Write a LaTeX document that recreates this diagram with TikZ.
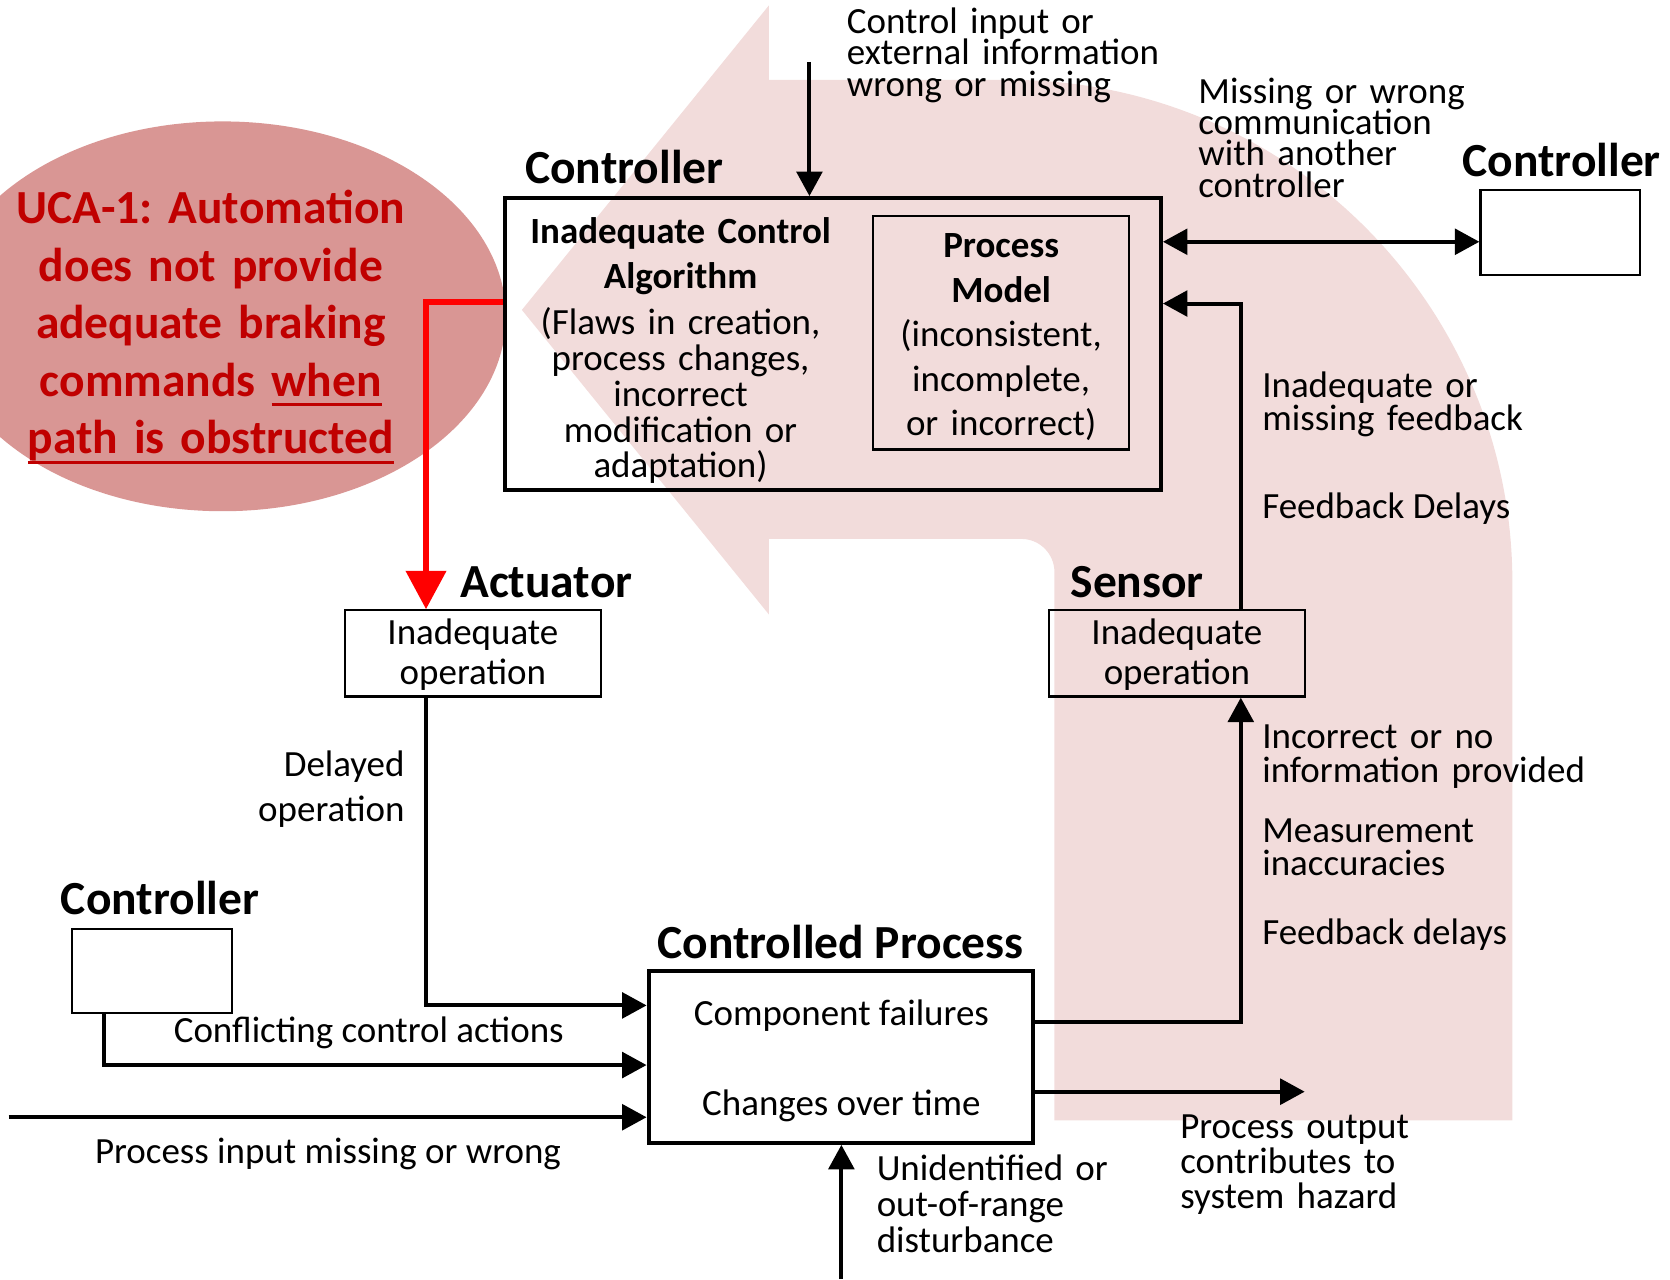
\documentclass[tikz,border=0pt]{standalone}
\usepackage{fontspec}
\setmainfont{Carlito}
\usetikzlibrary{arrows.meta,shapes.geometric}
\definecolor{pinkbg}{HTML}{F2DCDB}
\definecolor{ellfill}{HTML}{D99694}
\definecolor{darkred}{HTML}{C00000}
\frenchspacing
\newsavebox\myulbox
\newcommand\myul[1]{\leavevmode\sbox\myulbox{#1}\rlap{\rule[-9.5pt]{\wd\myulbox}{3pt}}\usebox\myulbox}
\newcommand\fs[2]{\fontsize{#1}{#2}\selectfont\lineskiplimit=-\maxdimen\frenchspacing}
\begin{document}
\begin{tikzpicture}[x=1pt,y=-1pt,
  lbl/.style={font=\fs{44.6}{54}\bfseries, inner sep=0pt, anchor=base west},
  txt/.style={font=\fs{34.7}{30}, inner sep=0pt, anchor=base west},
  thinbox/.style={draw, line width=2pt, inner sep=0pt},
  thickbox/.style={draw, line width=3.8pt, inner sep=0pt},
  arr/.style={line width=3.8pt, line join=miter, -{Triangle[length=23pt,width=24pt]}},
  dblarr/.style={line width=3.8pt, {Triangle[length=23pt,width=24pt]}-{Triangle[length=23pt,width=24pt]}},
  redarr/.style={draw=red, line width=5.6pt, line join=miter, -{Triangle[length=36pt,width=37pt]}}
]
\clip (0,0) rectangle (1568,1201);
% big pink background arrow
\fill[pinkbg] (490,291) -- (722,5) -- (722,75) -- (948,75)
  .. controls (1208.7,75) and (1420,286.3) .. (1420,547)
  -- (1420,1052) -- (990,1052) -- (990,537)
  .. controls (990,519.9) and (976.1,506) .. (959,506)
  -- (722,506) -- (722,577) -- cycle;
% UCA ellipse
\node[ellipse, fill=ellfill, minimum width=532pt, minimum height=366pt, inner sep=0pt] (uca) at (209,297) {};
\node[font=\fs{44.6}{54}\bfseries, text=darkred, inner sep=0pt, text width=460pt, align=center, anchor=base] (ucatext) at (198,210)
  {UCA-1: Automation\\does not provide\\adequate braking\\commands \myul{when}\\\myul{path is obstructed}};

% boxes
\node[thickbox, minimum width=616pt, minimum height=274pt] (main) at (782,323) {};
\node[thinbox, minimum width=240pt, minimum height=219pt] (pm) at (940,312.5) {};
\node[thinbox, fill=white, minimum width=150pt, minimum height=80pt] (rc) at (1465,218) {};
\node[thinbox, minimum width=240pt, minimum height=81pt] (sensor) at (1105,613.5) {};
\node[thinbox, fill=white, minimum width=240pt, minimum height=81pt] (act) at (444,613.5) {};
\node[thinbox, fill=white, minimum width=150pt, minimum height=79pt] (lc) at (143,911.5) {};
\node[thickbox, fill=white, minimum width=361pt, minimum height=161pt] (proc) at (789.5,992.5) {};

% labels
\node[lbl] (mainlbl) at (493,172) {Controller};
\node[lbl] (rclbl) at (1373,166) {Controller};
\node[lbl] (senslbl) at (1005,561) {Sensor};
\node[lbl] (actlbl) at (432,561) {Actuator};
\node[lbl] (lclbl) at (57,859) {Controller};
\node[lbl] (proclbl) at (617,900) {Controlled Process};

% box texts
\node[txt, font=\fs{34.7}{42}\bfseries, text width=320pt, align=center, anchor=base] (ica) at (639,229) {Inadequate Control\\Algorithm};
\node[txt, font=\fs{34.7}{33.7}, text width=320pt, align=center, anchor=base] (flaws) at (639,314) {(Flaws in creation,\\process changes,\\incorrect\\modification or\\adaptation)};
\node[txt, font=\fs{34.7}{41.75}, text width=230pt, align=center, anchor=base] (pmtext) at (940,242) {\textbf{Process}\\\textbf{Model}\\(inconsistent,\\incomplete,\\or incorrect)};
\node[txt, font=\fs{34.7}{38}, text width=230pt, align=center, anchor=base] (senstext) at (1105,605) {Inadequate\\operation};
\node[txt, font=\fs{34.7}{38}, text width=230pt, align=center, anchor=base] (acttext) at (444,605) {Inadequate\\operation};
\node[txt, anchor=base] (cf) at (790,963) {Component failures};
\node[txt, anchor=base] (cot) at (790,1047) {Changes over time};

% annotation texts
\node[txt, text width=400pt, align=left] (ctrlin) at (795,31) {Control input or\\external information\\wrong or missing};
\node[txt, font=\fs{34.7}{29.4}, text width=400pt, align=left] (comm) at (1125,97) {Missing or wrong\\communication\\with another\\controller};
\node[txt, font=\fs{34.7}{31}, text width=400pt, align=left] (fbmiss) at (1185,373) {Inadequate or\\missing feedback};
\node[txt] (fbdel) at (1185,487) {Feedback Delays};
\node[txt, font=\fs{34.7}{32}, text width=400pt, align=left] (incinfo) at (1185,703) {Incorrect or no\\information provided};
\node[txt, font=\fs{34.7}{31}, text width=400pt, align=left] (meas) at (1185,791) {Measurement\\inaccuracies};
\node[txt] (fbdel2) at (1185,887) {Feedback delays};
\node[txt, font=\fs{34.7}{42}, text width=200pt, align=right, anchor=base east] (delop) at (380,729) {Delayed\\operation};
\node[txt] (conf) at (163,979) {Conflicting control actions};
\node[txt] (pinput) at (89,1092) {Process input missing or wrong};
\node[txt, font=\fs{34.7}{33}, text width=300pt, align=left] (pout) at (1108,1069) {Process output\\contributes to\\system hazard};
\node[txt, font=\fs{34.7}{34}, text width=300pt, align=left] (dist) at (823,1108) {Unidentified or\\out-of-range\\disturbance};

% connector helper coordinates
\coordinate (cin) at (760,58);
\coordinate (fb) at (1165,285);
\coordinate (ms) at (1165,960);
\coordinate (rd) at (400,284);
\coordinate (ad) at (400,944);
\coordinate (cd) at (98,1000);
\coordinate (pin) at (8,1049);
\coordinate (poutc) at (1225,1025);
\coordinate (distc) at (790,1201);
\coordinate (comy) at (0,227);

% connectors
\draw[arr] (cin) -- (cin |- main.north);
\draw[dblarr] (main.east |- comy) -- (rc.west |- comy);
\draw[arr] (sensor.north -| fb) -- (fb) -- (main.east |- fb);
\draw[arr] (proc.east |- ms) -- (ms) -- (sensor.south -| ms);
\draw[redarr] (main.west |- rd) -- (rd) -- (act.north -| rd);
\draw[arr] (act.south -| ad) -- (ad) -- (proc.west |- ad);
\draw[arr] (lc.south -| cd) -- (cd) -- (proc.west |- cd);
\draw[arr] (pin) -- (proc.west |- pin);
\draw[arr] (proc.east |- poutc) -- (poutc);
\draw[arr] (distc) -- (proc.south -| distc);
\end{tikzpicture}
\end{document}
